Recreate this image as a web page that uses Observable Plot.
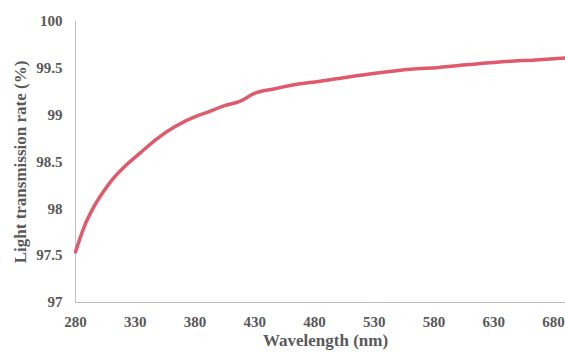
<!DOCTYPE html>
<html>
<head>
<meta charset="utf-8">
<script src="https://cdn.jsdelivr.net/npm/d3@7"></script>
<script src="https://cdn.jsdelivr.net/npm/@observablehq/plot@0.6"></script>
<style>
  html, body { margin: 0; padding: 0; background: #fff; }
</style>
</head>
<body>
<div id="chart"></div>
<script>
const wavelength = [280, 287, 295.3, 303.7, 312, 321.8, 334.4, 348.4, 362.3, 383.2, 390.2, 404.1, 418, 429.2, 445.9, 465.5, 483.6, 504.5, 532.5, 560.3, 584, 609.1, 637, 664.9, 690];
const transmission = [97.54, 97.80, 98.02, 98.19, 98.33, 98.46, 98.60, 98.75, 98.87, 99.00, 99.03, 99.10, 99.15, 99.23, 99.28, 99.33, 99.36, 99.40, 99.45, 99.49, 99.51, 99.54, 99.57, 99.59, 99.61];
const xTicks = [280, 330, 380, 430, 480, 530, 580, 630, 680];
const yTicks = [97, 97.5, 98, 98.5, 99, 99.5, 100];
const xLabel = "Wavelength (nm)";
const yLabel = "Light transmission rate (%)";

const data = wavelength.map((w, i) => ({w, t: transmission[i]}));
const textColor = "#595959";
const axisColor = "#bfbfbf";

const chart = Plot.plot({
  width: 565,
  height: 353,
  marginLeft: 75,
  marginRight: 0,
  marginTop: 21,
  marginBottom: 51,
  style: {fontFamily: "'Liberation Serif', 'Times New Roman', serif", fontWeight: "bold", background: "#fff"},
  x: {domain: [280, 690]},
  y: {domain: [97, 100]},
  marks: [
    Plot.ruleX([280], {stroke: axisColor, strokeWidth: 1}),
    Plot.ruleY([97], {stroke: axisColor, strokeWidth: 1}),
    Plot.axisX({ticks: xTicks, tickSize: 0, tickPadding: 14, fontSize: 15, fill: textColor, label: null, tickFormat: d => String(d)}),
    Plot.axisY({ticks: yTicks, tickSize: 0, tickPadding: 13, fontSize: 15, fill: textColor, label: null, tickFormat: d => String(d)}),
    Plot.line(data, {x: "w", y: "t", stroke: "#e15a6c", strokeWidth: 3.5, curve: "monotone-x"}),
    Plot.text([xLabel], {frameAnchor: "bottom", dy: 43, dx: 5, fontSize: 17, fontWeight: "bold", fill: textColor, text: d => d}),
    Plot.text([yLabel], {frameAnchor: "left", textAnchor: "middle", dx: -55, rotate: -90, fontSize: 17, fontWeight: "bold", fill: textColor, text: d => d})
  ]
});
document.getElementById("chart").appendChild(chart);
</script>
</body>
</html>
